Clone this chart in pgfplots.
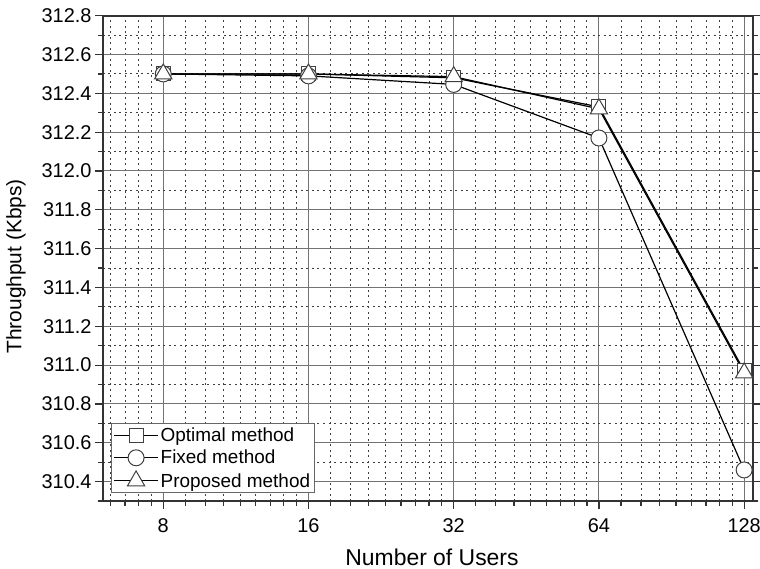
\documentclass[border=0pt]{standalone}
\usepackage{pgfplots}
\pgfplotsset{compat=1.18}
\usepackage{fontspec}
\setmainfont{Liberation Sans}
\usetikzlibrary{calc}
\begin{document}
\begin{tikzpicture}
\begin{axis}[
  at={(0,0)}, anchor=south west,
  scale only axis, width=650bp, height=485.3bp,
  xmin=2.585, xmax=7.061, ymin=310.3, ymax=312.8,
  xtick={3,4,5,6,7}, xticklabels={8,16,32,64,128},
  minor xtick={2.6374,2.7370,2.8301,2.9175,
    3.1520,3.2895,3.4150,3.5305,3.6374,3.7370,3.8301,3.9175,
    4.1520,4.2895,4.4150,4.5305,4.6374,4.7370,4.8301,4.9175,
    5.1520,5.2895,5.4150,5.5305,5.6374,5.7370,5.8301,5.9175,
    6.1520,6.2895,6.4150,6.5305,6.6374,6.7370,6.8301,6.9175},
  ytick={310.4,310.6,310.8,311.0,311.2,311.4,311.6,311.8,312.0,312.2,312.4,312.6,312.8},
  minor ytick={310.3,310.5,310.7,310.9,311.1,311.3,311.5,311.7,311.9,312.1,312.3,312.5,312.7},
  yticklabel style={/pgf/number format/.cd, fixed, fixed zerofill, precision=1, 1000 sep={}},
  /pgf/number format/assume math mode=true,
  ticklabel style={font=\fontsize{20}{22}\selectfont},
  xticklabel style={yshift=-6bp},
  xtick pos=bottom, ytick pos=both, tick align=outside,
  major tick length=8bp, minor tick length=5bp,
  tick style={line width=1.2bp, black!80},
  axis line style={line width=1.8bp, black!80},
  grid=both,
  major grid style={solid, black!55, line width=1bp},
  minor grid style={black!75, line width=0.9bp, dash pattern=on 2bp off 3.5bp},
  xlabel={Number of Users},
  ylabel={Throughput (Kbps)},
  xlabel style={font=\fontsize{23}{26}\selectfont, at={($(rel axis cs:0.5,0)+(4bp,-56bp)$)}, anchor=center},
  ylabel style={font=\fontsize{21}{24}\selectfont, at={($(rel axis cs:0,0.5)+(-87bp,-8bp)$)}, anchor=center},
  legend style={at={(0.0123,0.0165)}, anchor=south west, draw=black!60, line width=1bp, fill=white,
    font=\fontsize{19}{23}\selectfont, inner sep=2bp, row sep=3.5bp},
  legend cell align=left,
  legend image code/.code={\draw[mark repeat=2,mark phase=2,#1] plot coordinates {(0bp,0bp)(22bp,0bp)(44bp,0bp)};},
  every axis plot/.append style={line width=1.2bp, black},
]
% x = log2(number of users): 3->8, 4->16, 5->32, 6->64, 7->128
\addplot[mark=square*, mark size=7bp, mark options={solid, fill=white, draw=black!75, line width=1bp}] coordinates {(3,312.50) (4,312.50) (5,312.48) (6,312.33) (7,310.97)};
\addlegendentry{Optimal method}
\addplot[mark=*, mark size=8bp, mark options={solid, fill=white, draw=black!75, line width=1bp}] coordinates {(3,312.50) (4,312.49) (5,312.446) (6,312.17) (7,310.46)};
\addlegendentry{Fixed method}
\addplot[mark=triangle*, mark size=10bp, mark options={solid, fill=white, draw=black!75, line width=1bp}] coordinates {(3,312.50) (4,312.50) (5,312.486) (6,312.32) (7,310.96)};
\addlegendentry{Proposed method}
\end{axis}
\pgfresetboundingbox
\path[use as bounding box] (-103bp,-68bp) rectangle (657bp,501bp);
\end{tikzpicture}
\end{document}
